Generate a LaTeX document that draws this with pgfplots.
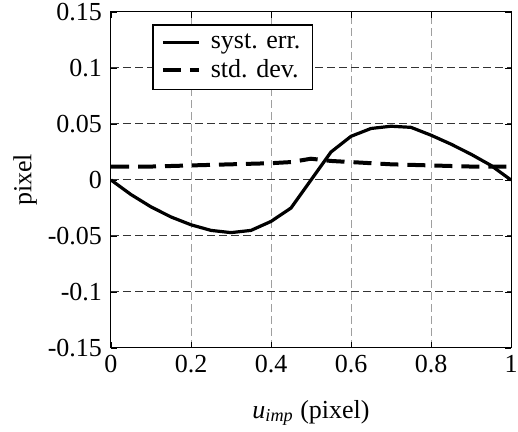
\documentclass[border=0pt]{standalone}
\usepackage{fontspec}
\setmainfont{Liberation Serif}
\usepackage{pgfplots}
\pgfplotsset{compat=1.18}
\begin{document}
\begin{tikzpicture}[font=\fontsize{13}{15.6}\selectfont]
\path[use as bounding box] (-55.5pt,-42pt) rectangle (203.5pt,174pt);
\begin{axis}[
  at={(0,0)}, anchor=south west,
  width=200pt, height=168pt, scale only axis,
  xmin=0, xmax=1, ymin=-0.15, ymax=0.15,
  xtick={0,0.2,0.4,0.6,0.8,1},
  xticklabels={0,0.2,0.4,0.6,0.8,1},
  ytick={-0.15,-0.1,-0.05,0,0.05,0.1,0.15},
  yticklabels={-0.15,-0.1,-0.05,0,0.05,0.1,0.15},
  tick align=inside, major tick length=3pt,
  tick style={black, line width=0.4pt},
  grid=major,
  x grid style={dash pattern=on 4pt off 2pt, gray!75, line width=0.5pt},
  y grid style={dash pattern=on 4pt off 2pt, black!80, line width=0.5pt},
  axis line style={black, line width=0.5pt},
  xlabel={\textit{u}\textsubscript{\textit{imp}} (pixel)},
  ylabel={pixel},
  xlabel style={at={(axis description cs:0.5,0)}, anchor=center, yshift=-32.5pt},
  ylabel style={at={(axis description cs:-0.215,0.5)}, anchor=center},
  yticklabel style={xshift=-1pt},
  legend style={at={(0.1025,0.964)}, anchor=north west, draw=black, line width=0.8pt,
    inner xsep=4pt, inner ysep=2.5pt, row sep=0pt, column sep=3pt},
  legend cell align=left,
  legend image code/.code={\draw[#1] (0pt,0pt) -- (18pt,0pt);},
]
\addplot[black, line width=1.6pt] coordinates {
(0,0) (0.05,-0.013) (0.1,-0.024) (0.15,-0.033) (0.2,-0.040) (0.25,-0.045)
(0.3,-0.047) (0.35,-0.045) (0.4,-0.037) (0.45,-0.025) (0.5,0.0)
(0.55,0.025) (0.6,0.039) (0.65,0.046) (0.7,0.048) (0.75,0.047)
(0.8,0.040) (0.85,0.032) (0.9,0.023) (0.95,0.013) (1.0,0.0)
};
\addlegendentry{syst. err.}
\addplot[black, line width=2pt, dash pattern=on 9pt off 4.5pt] coordinates {
(0,0.012) (0.1,0.012) (0.2,0.013) (0.3,0.014) (0.4,0.015) (0.45,0.016)
(0.5,0.019) (0.55,0.017) (0.6,0.016) (0.7,0.014) (0.8,0.013) (0.9,0.012) (1.0,0.012)
};
\addlegendentry{std. dev.}
\end{axis}
\end{tikzpicture}
\end{document}
